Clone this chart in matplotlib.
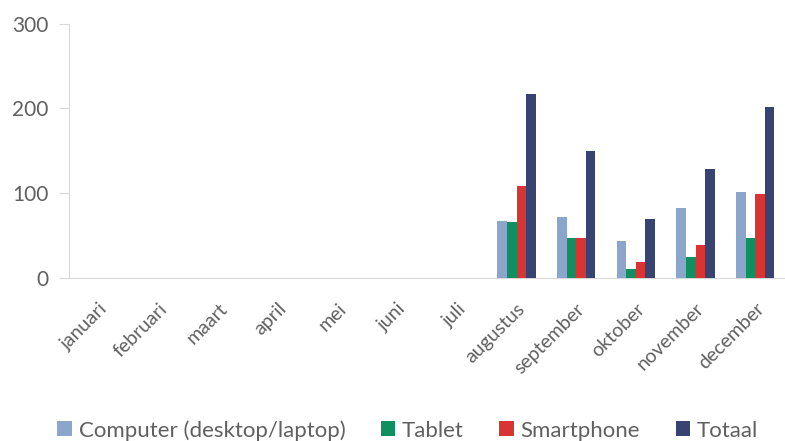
import matplotlib

matplotlib.use("Agg")
import matplotlib.pyplot as plt
import numpy as np

plt.rcParams["font.family"] = ["Lato", "DejaVu Sans"]

TEXT = "#606060"
AXIS = "#d9d9d9"

months = ["januari", "februari", "maart", "april", "mei", "juni", "juli",
          "augustus", "september", "oktober", "november", "december"]
computer = [0, 0, 0, 0, 0, 0, 0, 67, 72, 43, 83, 101]
tablet = [0, 0, 0, 0, 0, 0, 0, 66, 47, 10, 25, 47]
smartphone = [0, 0, 0, 0, 0, 0, 0, 109, 47, 19, 39, 99]
totaal = [0, 0, 0, 0, 0, 0, 0, 217, 150, 69, 128, 202]

series = [
    ("Computer (desktop/laptop)", computer, "#8ba6cb"),
    ("Tablet", tablet, "#109060"),
    ("Smartphone", smartphone, "#d93434"),
    ("Totaal", totaal, "#374370"),
]

fig = plt.figure(figsize=(7.85, 4.41), dpi=100)
ax = fig.add_axes([0.088, 0.370, 0.912, 0.576])

x = np.arange(len(months))
w = 0.16
for i, (name, vals, color) in enumerate(series):
    ax.bar(x + (i - 1.5) * w, vals, width=w, color=color, label=name, zorder=3)

ax.set_xlim(-0.5, len(months) - 0.5)
ax.set_ylim(0, 300)
ax.set_yticks([0, 100, 200, 300])
ax.set_xticks(x)
ax.set_xticklabels(months, rotation=45, ha="right", rotation_mode="anchor")

for side in ("top", "right"):
    ax.spines[side].set_visible(False)
ax.spines["left"].set_color(AXIS)
ax.spines["bottom"].set_color(AXIS)
ax.tick_params(axis="y", colors=AXIS, labelcolor=TEXT, labelsize=15, length=7, pad=8)
ax.tick_params(axis="x", length=0, labelcolor=TEXT, labelsize=14, pad=16)

ax.legend(loc="center", bbox_to_anchor=(0.473, -0.6), ncol=4, frameon=False,
          fontsize=16, labelcolor=TEXT, handlelength=0.65, handleheight=0.65,
          handletextpad=0.3, columnspacing=1.6)

fig.savefig("out.png", dpi=100)
